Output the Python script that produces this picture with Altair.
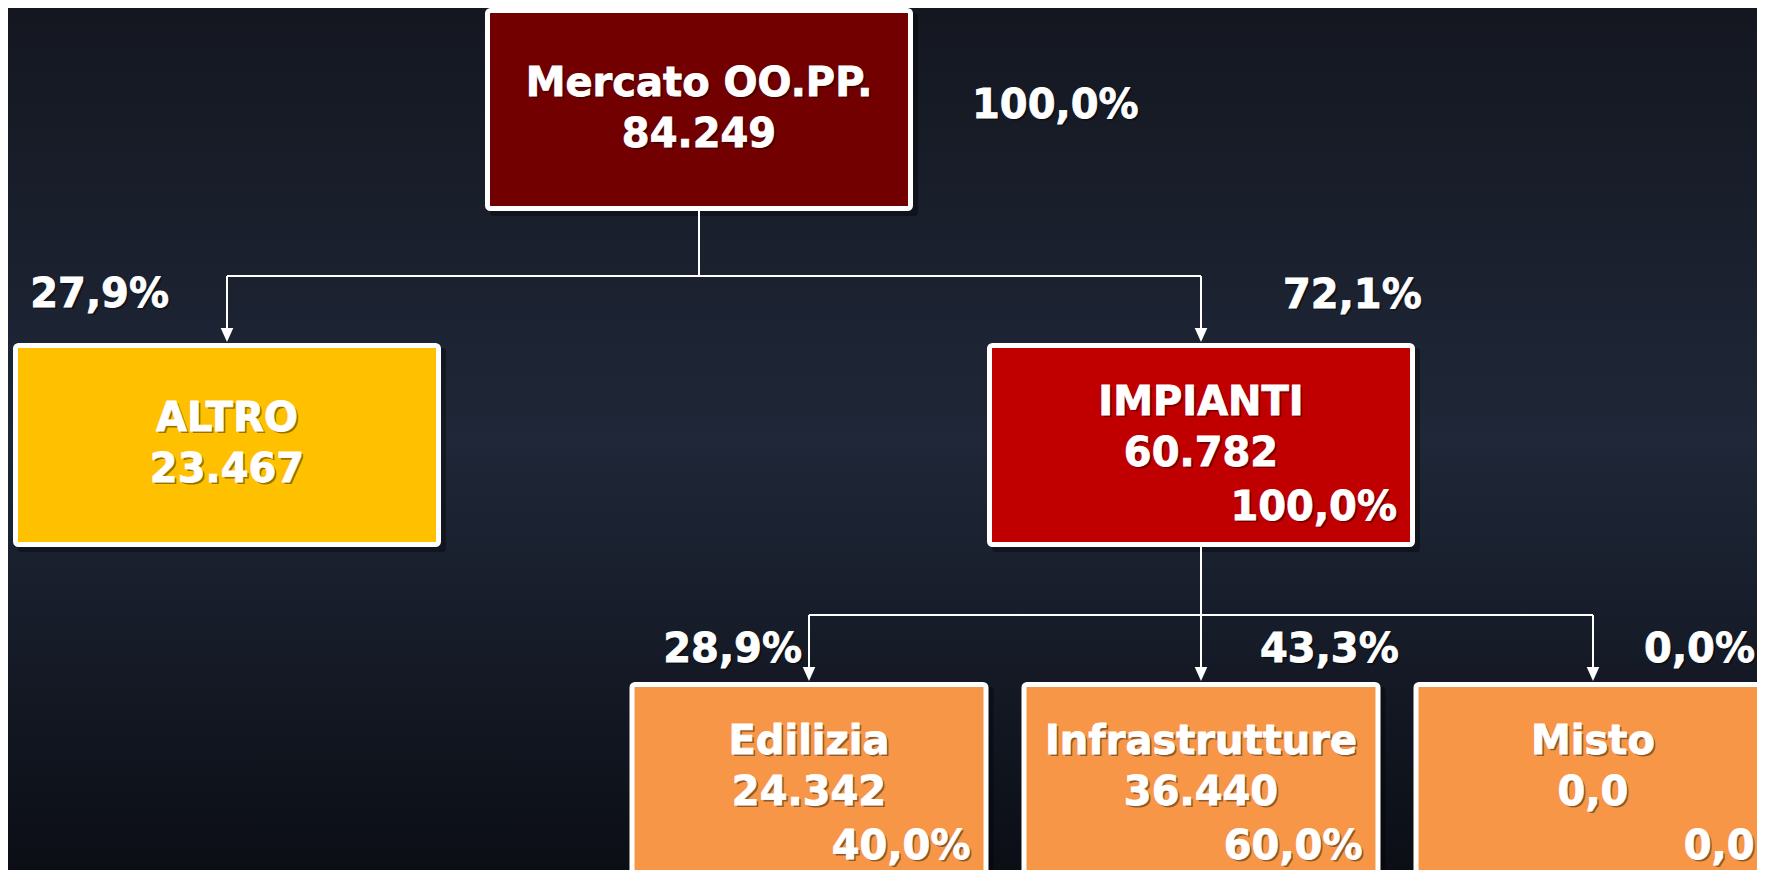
import altair as alt
import pandas as pd

# ---------------- data ----------------
node_names = ["Mercato OO.PP.", "ALTRO", "IMPIANTI", "Edilizia", "Infrastrutture", "Misto"]
node_values = ["84.249", "23.467", "60.782", "24.342", "36.440", "0,0"]
share_of_parent = ["100,0%", "27,9%", "72,1%", "28,9%", "43,3%", "0,0%"]
inner_share = ["", "", "100,0%", "40,0%", "60,0%", "0,0"]
parent_index = [-1, 0, 0, 2, 2, 2]
node_colors = ["#720000", "#FFC000", "#C00000", "#F79646", "#F79646", "#F79646"]

# ---------------- layout ----------------
W, H = 1749, 862
X0, Y0 = 8, 8
level_of = [0, 1, 1, 2, 2, 2]
center_x = [699, 227, 1201, 809, 1201, 1593]
level_top = [8, 343, 682]
level_h = [203, 204, 215]
level_w = [428, 428, 359]
# share label: (dx from box centre, dy from box top, align)
share_pos = [(273, 110, "left"), (-58, -36, "right"), (82, -35, "left"),
             (-7, -20, "right"), (59, -20, "left"), (162, -20, "right")]
LINE = 51
FONT = "DejaVu Sans"
FS = 40

xs = alt.Scale(domain=[X0, X0 + W], nice=False, zero=False)
ys = alt.Scale(domain=[Y0, Y0 + H], nice=False, zero=False, reverse=True)


def X(f):
    return alt.X(f, type="quantitative", scale=xs, axis=None)


def Y(f):
    return alt.Y(f, type="quantitative", scale=ys, axis=None)


nodes = []
for i, name in enumerate(node_names):
    lv = level_of[i]
    w = level_w[lv]
    top = level_top[lv]
    cx = center_x[i]
    nodes.append(dict(id=i, name=name, color=node_colors[i], cx=cx,
                      left=cx - w / 2, right=cx + w / 2, top=top, bottom=top + level_h[lv]))
nodes_df = pd.DataFrame(nodes)
nodes_df["l_in"] = nodes_df["left"] + 2.5
nodes_df["r_in"] = nodes_df["right"] - 2.5
nodes_df["t_in"] = nodes_df["top"] + 2.5
nodes_df["b_in"] = nodes_df["bottom"] - 2.5
nodes_df["l_sh"] = nodes_df["left"] + 5
nodes_df["r_sh"] = nodes_df["right"] + 5
nodes_df["t_sh"] = nodes_df["top"] + 5
nodes_df["b_sh"] = nodes_df["bottom"] + 5

# texts
texts = []
for i, n in enumerate(nodes):
    has_inner = inner_share[i] != ""
    ty = n["top"] + (72 if has_inner else 88)
    texts.append(dict(x=n["cx"], y=ty, text=node_names[i], align="center"))
    texts.append(dict(x=n["cx"], y=ty + LINE, text=node_values[i], align="center"))
    if has_inner:
        texts.append(dict(x=n["right"] - 18, y=n["top"] + 177, text=inner_share[i], align="right"))
    dx, dy, al = share_pos[i]
    sx = n["right"] + 59 if i == 0 else n["cx"] + dx
    texts.append(dict(x=sx, y=n["top"] + dy, text=share_of_parent[i], align=al))
texts_df = pd.DataFrame(texts)

# edges
edges = []
arrows = []
for p in sorted(set(x for x in parent_index if x >= 0)):
    kids = [c for c, q in enumerate(parent_index) if q == p]
    bus = nodes[kids[0]]["top"] - 67
    pn = nodes[p]
    edges.append(dict(x=pn["cx"], x2=pn["cx"], y=pn["bottom"], y2=bus))
    kx = [nodes[c]["cx"] for c in kids]
    edges.append(dict(x=min(kx), x2=max(kx), y=bus, y2=bus))
    for c in kids:
        edges.append(dict(x=nodes[c]["cx"], x2=nodes[c]["cx"], y=bus, y2=nodes[c]["top"] - 10))
        arrows.append(dict(x=nodes[c]["cx"], y=nodes[c]["top"] - 1))
edges_df = pd.DataFrame(edges)
arrows_df = pd.DataFrame(arrows)

# ---------------- chart ----------------
bg = alt.Chart(pd.DataFrame({"a": [0]})).mark_rect(
    color=alt.LinearGradient(
        gradient="linear",
        stops=[alt.GradientStop(color="#141720", offset=0),
               alt.GradientStop(color="#1f2738", offset=0.5),
               alt.GradientStop(color="#0b0e15", offset=1)],
        x1=0, x2=0, y1=0, y2=1),
).encode(x=alt.value(0), x2=alt.value(W), y=alt.value(0), y2=alt.value(H))

base_nodes = alt.Chart(nodes_df)
shadow = base_nodes.mark_rect(color="black", opacity=0.35, cornerRadius=3, clip=True).encode(
    x=X("l_sh"), x2="r_sh", y=Y("t_sh"), y2="b_sh")
boxes = base_nodes.mark_rect(stroke="white", strokeWidth=5, cornerRadius=3, clip=True).encode(
    x=X("l_in"), x2="r_in", y=Y("t_in"), y2="b_in",
    fill=alt.Fill("color:N", scale=None))

lines = alt.Chart(edges_df).mark_rule(color="white", strokeWidth=2, clip=True).encode(
    x=X("x"), x2="x2", y=Y("y"), y2="y2")
heads = alt.Chart(arrows_df).mark_point(
    shape="M-0.45,-1L0.45,-1L0,0Z", size=784, filled=True, color="white", opacity=1, clip=True
).encode(x=X("x"), y=Y("y"))

layers = [bg, shadow, boxes, lines, heads]
for al in ["left", "center", "right"]:
    sub = alt.Chart(texts_df).transform_filter(alt.datum.align == al)
    layers.append(sub.mark_text(align=al, baseline="alphabetic", font=FONT, fontSize=FS,
                                fontWeight="bold", color="black", opacity=0.4, dx=2, dy=2, clip=True)
                  .encode(x=X("x"), y=Y("y"), text="text:N"))
    layers.append(sub.mark_text(align=al, baseline="alphabetic", font=FONT, fontSize=FS,
                                fontWeight="bold", color="white", stroke="white", strokeWidth=0.8,
                                clip=True)
                  .encode(x=X("x"), y=Y("y"), text="text:N"))

chart = alt.layer(*layers).properties(
    width=W, height=H, padding=0,
    autosize=alt.AutoSizeParams(type="none"),
    background="#1a2030",
).configure_view(stroke=None)

chart.save("out.html", embed_options={"renderer": "svg", "actions": False})
